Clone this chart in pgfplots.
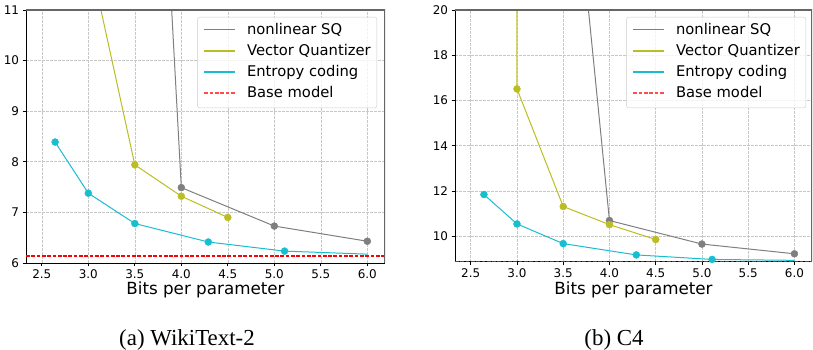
\documentclass[border=0pt]{standalone}
\usepackage{pgfplots}
\pgfplotsset{compat=1.18}
\usepackage{fontspec}
\setmainfont{DejaVu Sans}
\newfontfamily\capfont{Liberation Serif}
\definecolor{cSQ}{HTML}{7F7F7F}
\definecolor{cVQ}{HTML}{BCBD22}
\definecolor{cEC}{HTML}{17BECF}
\definecolor{cBase}{HTML}{FF0000}

\pgfplotsset{
  myax/.style={
    scale only axis,
    axis lines=left,
    axis line style={-, black, line width=0.8bp},
    tick align=outside,
    major tick length=3.5bp,
    tick style={black, line width=0.8bp},
    xmin=2.33, xmax=6.19,
    xtick={2.5,3,3.5,4,4.5,5,5.5,6},
    xticklabel style={/pgf/number format/.cd, fixed, fixed zerofill, precision=1, assume math mode=true},
    yticklabel style={/pgf/number format/assume math mode=true},
    tick label style={font=\fontsize{12}{14}\selectfont},
    grid=major,
    major grid style={black!22, dash pattern=on 2.5bp off 1.5bp, line width=0.6bp},
    xlabel={Bits per parameter},
    xlabel style={at={(axis description cs:0.5,0)}, anchor=base, font=\fontsize{16.8}{20}\selectfont},
    clip=true,
  },
  sq/.style={draw=cSQ, line width=1bp, mark=none},
  vq/.style={draw=cVQ, line width=1bp, mark=none},
  ec/.style={draw=cEC, line width=1bp, mark=none},
  bm/.style={draw=cBase, line width=1.3bp, dash pattern=on 3.7bp off 1.6bp},
  sqm/.style={only marks, forget plot, mark=*, mark size=3.5bp, mark options={fill=cSQ, draw=cSQ}},
  vqm/.style={only marks, forget plot, mark=*, mark size=3.5bp, mark options={fill=cVQ, draw=cVQ}},
  ecm/.style={only marks, forget plot, mark=*, mark size=3.5bp, mark options={fill=cEC, draw=cEC}},
}

\newcommand{\lgline}[2][]{\tikz[baseline=-0.32em]\draw[draw=#2, line width=1.5bp, #1] (0bp,0bp) -- (31bp,0bp);}
\newcommand{\mylegend}{%
  \fontsize{14.8}{18}\selectfont
  \begin{tabular}{@{}l@{\hspace{11bp}}l@{}}
  \lgline{cSQ} & nonlinear SQ\\[3.3bp]
  \lgline{cVQ} & Vector Quantizer\\[3.3bp]
  \lgline{cEC} & Entropy coding\\[3.3bp]
  \lgline[dash pattern=on 3.7bp off 1.6bp]{cBase!70} & Base model
  \end{tabular}}

\begin{document}
\begin{tikzpicture}
\path[use as bounding box] (0bp,0bp) rectangle (813bp,350bp);

% (a) WikiText-2
\begin{axis}[myax, name=axA,
  at={(26bp,87bp)}, anchor=south west,
  width=359bp, height=253bp,
  ymin=6, ymax=11, ytick={6,7,8,9,10,11},
  xlabel style={yshift=-32bp},
]
\addplot[sq] coordinates {(3.5,24.4) (4.0,7.49) (5.0,6.73) (6.0,6.43)};
\addplot[sqm] coordinates {(4.0,7.49) (5.0,6.73) (6.0,6.43)};
\addplot[vq] coordinates {(3.0,12.14) (3.5,7.94) (4.0,7.32) (4.5,6.90)};
\addplot[vqm] coordinates {(3.5,7.94) (4.0,7.32) (4.5,6.90)};
\addplot[ec] coordinates {(2.643,8.39) (3.0,7.38) (3.5,6.78) (4.29,6.415) (5.11,6.235) (6.0,6.175)};
\addplot[ecm] coordinates {(2.643,8.39) (3.0,7.38) (3.5,6.78) (4.29,6.415) (5.11,6.235)};
\addplot[bm] coordinates {(2.33,6.14) (6.19,6.14)};
\draw[black!60, line width=1.5bp] (rel axis cs:0,1) -- (rel axis cs:1,1) -- (rel axis cs:1,0);
\end{axis}

% (b) C4
\begin{axis}[myax, name=axB,
  at={(455bp,88.3bp)}, anchor=south west,
  width=357bp, height=251.7bp,
  ymin=8.87, ymax=20, ytick={10,12,14,16,18,20},
  xlabel style={yshift=-33.3bp},
]
\addplot[sq] coordinates {(3.5,31.2) (4.0,10.69) (5.0,9.65) (6.0,9.22)};
\addplot[sqm] coordinates {(4.0,10.69) (5.0,9.65) (6.0,9.22)};
\addplot[vq] coordinates {(3.0,40) (3.0,16.51) (3.5,11.31) (4.0,10.51) (4.5,9.85)};
\addplot[vqm] coordinates {(3.0,16.51) (3.5,11.31) (4.0,10.51) (4.5,9.85)};
\addplot[ec] coordinates {(2.643,11.84) (3.0,10.54) (3.5,9.67) (4.29,9.17) (5.11,8.97) (6.0,8.93)};
\addplot[ecm] coordinates {(2.643,11.84) (3.0,10.54) (3.5,9.67) (4.29,9.17) (5.11,8.97)};
\addplot[bm] coordinates {(2.33,8.89) (6.19,8.89)};
\draw[black!60, line width=1.5bp] (rel axis cs:0,1) -- (rel axis cs:1,1) -- (rel axis cs:1,0);
\end{axis}

\node[draw=black!20, fill=white, fill opacity=0.8, text opacity=1, rounded corners=2bp,
  inner xsep=6bp, inner ysep=4.5bp, anchor=north east] at ([xshift=-8bp, yshift=-7bp]axA.north east) {\mylegend};
\node[draw=black!20, fill=white, fill opacity=0.8, text opacity=1, rounded corners=2bp,
  inner xsep=6bp, inner ysep=4.5bp, anchor=north east] at ([xshift=-6bp, yshift=-7bp]axB.north east) {\mylegend};

\node[anchor=base, font=\capfont\fontsize{23}{27}\selectfont] at (187bp,5bp) {(a) WikiText-2};
\node[anchor=base, font=\capfont\fontsize{23}{27}\selectfont] at (614bp,5bp) {(b) C4};
\end{tikzpicture}
\end{document}
